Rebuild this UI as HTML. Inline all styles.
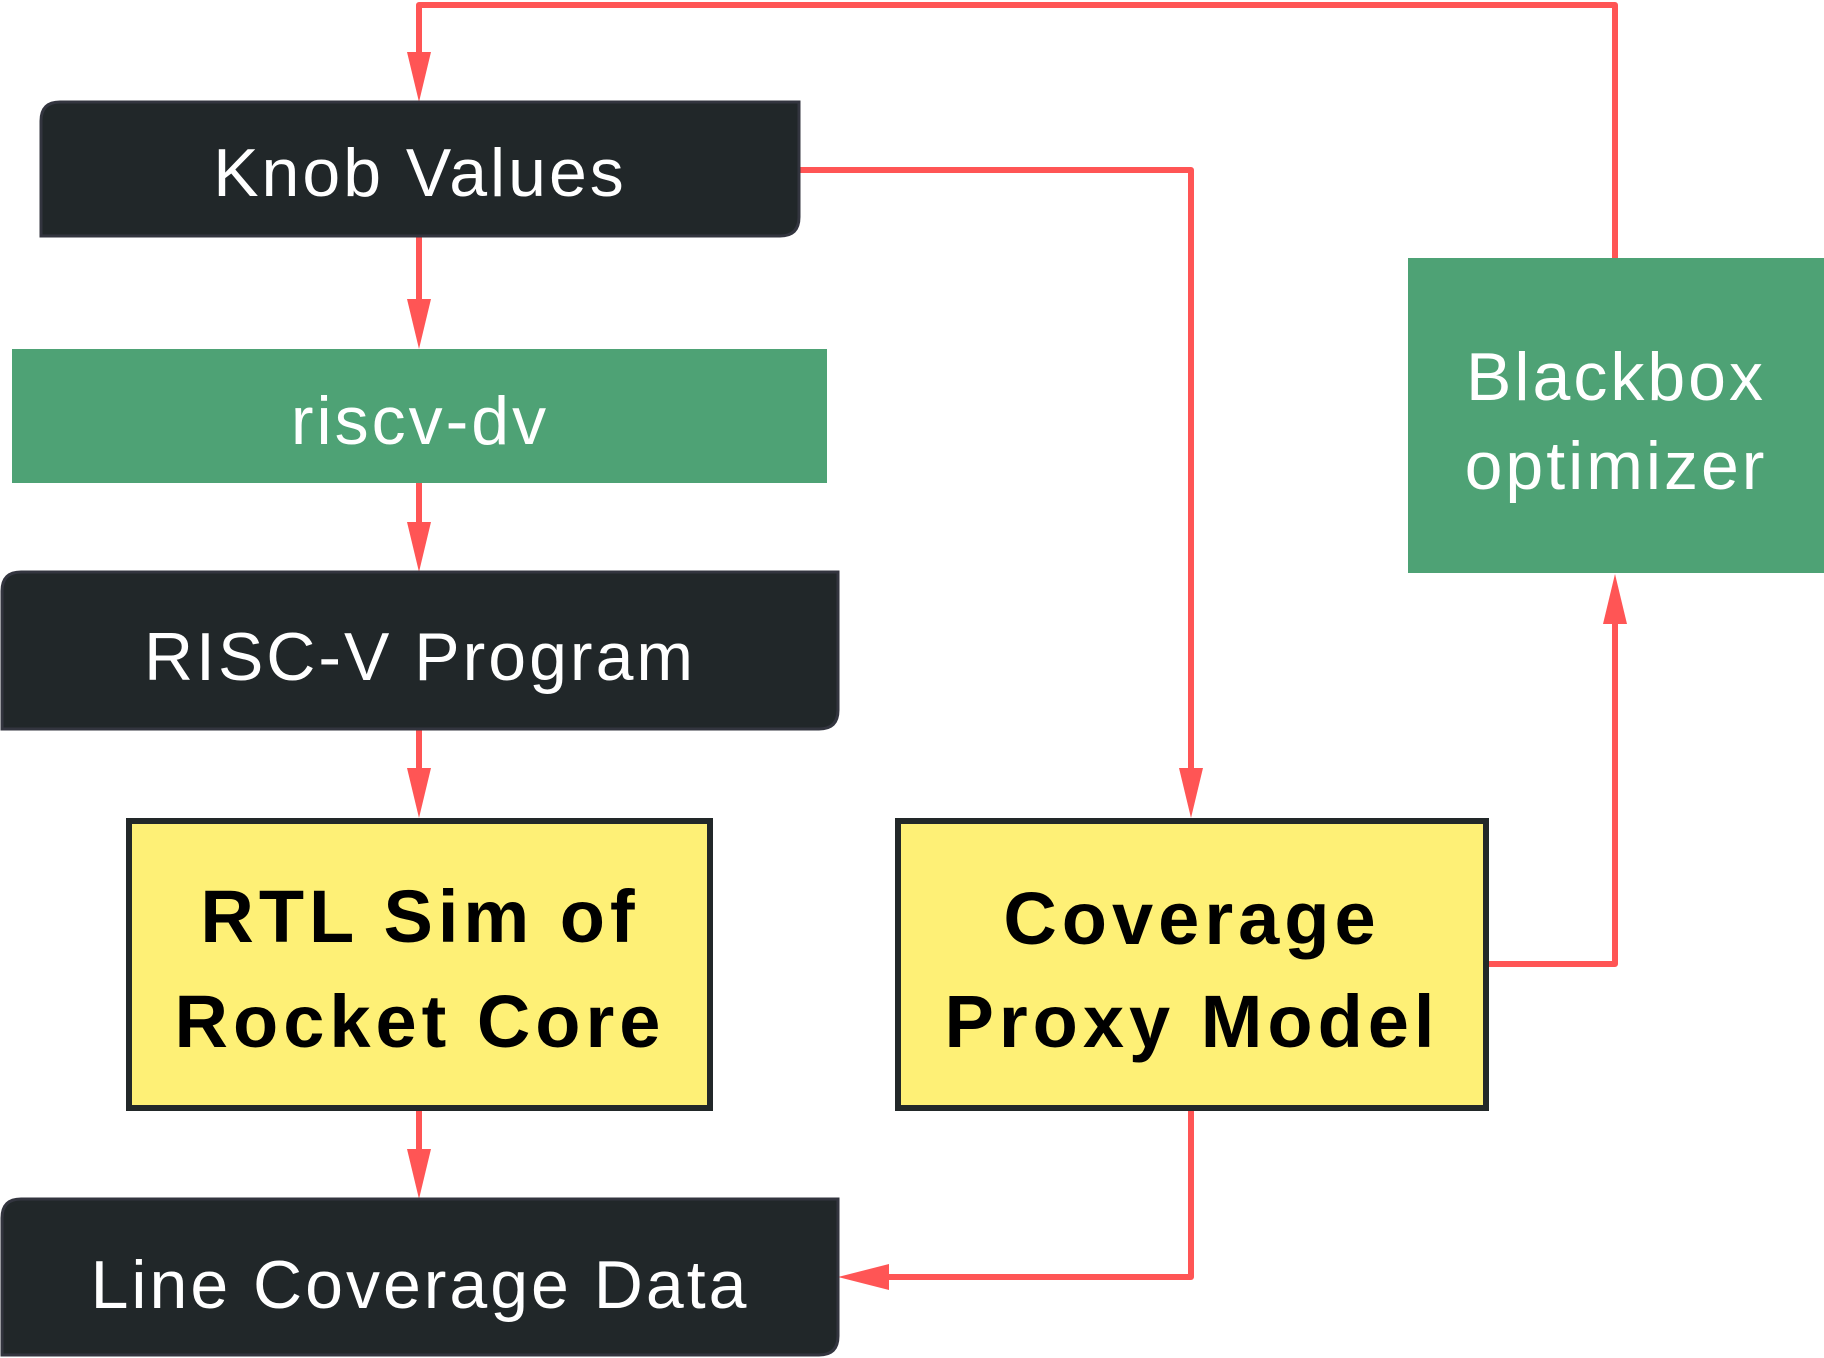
<!DOCTYPE html>
<html><head><meta charset="utf-8"><style>
html,body{margin:0;padding:0;background:#fff;}
svg{display:block;}
text{font-family:"Liberation Sans",sans-serif;}
.n{letter-spacing:3px;}
.b{letter-spacing:5px;}
</style></head><body>
<svg width="1824" height="1358" viewBox="0 0 1824 1358" xmlns="http://www.w3.org/2000/svg">
<g fill="none" stroke="#ff5555" stroke-width="6" stroke-linejoin="round">
<polyline points="1615,258 1615,5 419,5 419,55"/>
<line x1="419" y1="236" x2="419" y2="302"/>
<line x1="419" y1="483" x2="419" y2="525"/>
<line x1="419" y1="729" x2="419" y2="771"/>
<line x1="419" y1="1111" x2="419" y2="1152"/>
<polyline points="799,170 1191,170 1191,771"/>
<polyline points="1489,964 1615,964 1615,621"/>
<polyline points="1191,1111 1191,1277 886,1277"/>
</g>
<g fill="#ff5555">
<polygon points="407,52 431,52 419,102"/>
<polygon points="407,299 431,299 419,349"/>
<polygon points="407,522 431,522 419,572"/>
<polygon points="407,768 431,768 419,818"/>
<polygon points="407,1149 431,1149 419,1199"/>
<polygon points="1179,768 1203,768 1191,818"/>
<polygon points="1603,624 1627,624 1615,574"/>
<polygon points="889,1264 889,1290 838,1277"/>
</g>
<path d="M60,102 H799 V217 Q799,236 780,236 H41 V121 Q41,102 60,102 Z" fill="#212729" stroke="#33353f" stroke-width="3"/>
<text class="n" x="420" y="196" font-size="68" fill="#fff" text-anchor="middle">Knob Values</text>
<rect x="12" y="349" width="815" height="134" fill="#4ea275"/>
<text class="n" x="420" y="444" font-size="68" fill="#fff" text-anchor="middle">riscv-dv</text>
<path d="M21,572 H838 V710 Q838,729 819,729 H2 V591 Q2,572 21,572 Z" fill="#212729" stroke="#33353f" stroke-width="3"/>
<text class="n" x="420" y="680" font-size="68" fill="#fff" text-anchor="middle">RISC-V Program</text>
<rect x="129" y="821" width="581" height="287" fill="#fef076" stroke="#222829" stroke-width="6"/>
<text class="b" x="420" y="942" font-size="74" font-weight="bold" fill="#000" text-anchor="middle">RTL Sim of</text>
<text class="b" x="420" y="1047" font-size="74" font-weight="bold" fill="#000" text-anchor="middle">Rocket Core</text>
<path d="M21,1199 H838 V1336 Q838,1355 819,1355 H2 V1218 Q2,1199 21,1199 Z" fill="#212729" stroke="#33353f" stroke-width="3"/>
<text class="n" x="420" y="1308" font-size="68" fill="#fff" text-anchor="middle">Line Coverage Data</text>
<rect x="898" y="821" width="588" height="287" fill="#fef076" stroke="#222829" stroke-width="6"/>
<text class="b" x="1192" y="944" font-size="74" font-weight="bold" fill="#000" text-anchor="middle">Coverage</text>
<text class="b" x="1192" y="1047" font-size="74" font-weight="bold" fill="#000" text-anchor="middle">Proxy Model</text>
<rect x="1408" y="258" width="416" height="315" fill="#4ea275"/>
<text class="n" x="1616" y="400" font-size="68" fill="#fff" text-anchor="middle">Blackbox</text>
<text class="n" x="1616" y="489" font-size="68" fill="#fff" text-anchor="middle">optimizer</text>
</svg>
</body></html>
